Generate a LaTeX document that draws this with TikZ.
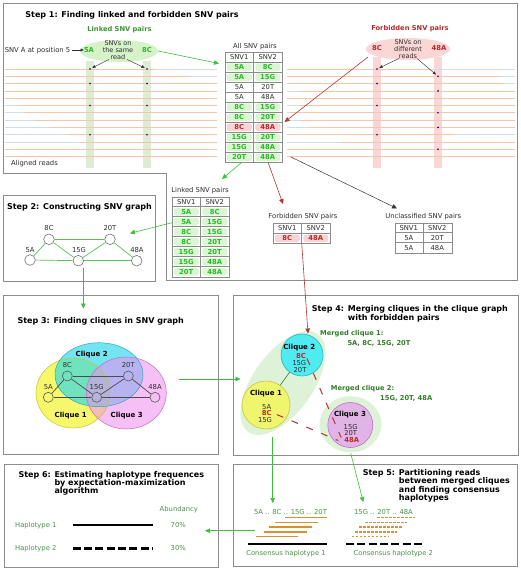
\documentclass[tikz,border=0pt]{standalone}
\usepackage{fontspec}
\setmainfont{DejaVu Sans}
\usetikzlibrary{arrows.meta,shapes.geometric}
\definecolor{boxgray}{RGB}{140,140,140}
\definecolor{txt}{RGB}{45,45,45}
\definecolor{tabgreen}{RGB}{40,185,40}
\definecolor{greenbg}{RGB}{218,246,210}
\definecolor{redtxt}{RGB}{185,40,40}
\definecolor{redbg}{RGB}{250,212,212}
\definecolor{ttlgreen}{RGB}{60,150,50}
\definecolor{ttlred}{RGB}{175,45,45}
\definecolor{mgreen}{RGB}{50,125,40}
\definecolor{sgreen}{RGB}{75,145,75}
\definecolor{readorange}{RGB}{245,198,170}
\definecolor{readblue}{RGB}{208,222,236}
\definecolor{stripgreen}{RGB}{222,236,212}
\definecolor{strippink}{RGB}{250,214,214}
\definecolor{ellgreen}{RGB}{214,242,200}
\definecolor{ellpink}{RGB}{250,214,214}
\definecolor{agreen}{RGB}{60,190,60}
\definecolor{ared}{RGB}{180,50,50}
\definecolor{graphgreen}{RGB}{90,190,90}
\definecolor{hapor}{RGB}{215,145,45}
\definecolor{mergefill}{RGB}{222,242,215}
\definecolor{c1fill}{RGB}{240,245,110}
\definecolor{c1draw}{RGB}{200,200,60}
\definecolor{c2fill}{RGB}{80,235,240}
\definecolor{c2draw}{RGB}{40,180,190}
\definecolor{c3fill}{RGB}{225,180,230}
\definecolor{c3draw}{RGB}{190,110,200}
\definecolor{ey}{RGB}{245,245,70}
\definecolor{ec}{RGB}{40,215,235}
\definecolor{em}{RGB}{240,140,240}
\tikzset{
  box/.style={draw=boxgray, line width=0.8pt},
  ttl/.style={font=\fontsize{8}{9}\selectfont\bfseries, inner sep=0pt, text=black},
  sub/.style={font=\fontsize{6.7}{8}\selectfont\bfseries, inner sep=0pt, text height=4.9pt, text depth=0pt},
  sml/.style={font=\fontsize{6.8}{8}\selectfont, inner sep=0pt, text=txt, text height=4.9pt, text depth=0pt},
  bsm/.style={font=\fontsize{6.8}{8}\selectfont\bfseries, inner sep=0pt, text height=4.9pt, text depth=0pt},
  clq/.style={font=\fontsize{7}{8}\selectfont\bfseries, inner sep=0pt, text=black, text height=5pt, text depth=0pt},
  hdr/.style={sml},
  gcell/.style={bsm, text=tabgreen, fill=greenbg, rounded corners=2.5pt, minimum width=25pt, minimum height=7.6pt},
  rcell/.style={bsm, text=redtxt, fill=redbg, rounded corners=2.5pt, minimum width=25pt, minimum height=7.6pt},
  ncell/.style={sml},
  tabline/.style={draw=boxgray, line width=0.5pt},
  readb/.style={draw=readblue, line width=0.7pt},
  reado/.style={draw=readorange, line width=0.7pt},
  dot/.style={circle, fill=black!60!blue, inner sep=0pt, minimum size=1.8pt},
  garrow/.style={draw=agreen, line width=0.6pt, -{Triangle[length=5pt,width=4.5pt]}},
  rarrow/.style={draw=ared, line width=0.6pt, -{Triangle[length=5pt,width=4.5pt]}},
  karrow/.style={draw=black!80, line width=0.5pt, -{Triangle[length=5pt,width=4.5pt]}},
  sarrow/.style={draw=black!80, line width=0.45pt, -{Triangle[length=3.2pt,width=2.8pt]}},
  gnode/.style={circle, draw=black!55, fill=white, line width=0.6pt, minimum size=10.6pt, inner sep=0pt},
  cnode/.style={circle, draw=black!65, line width=0.6pt, minimum size=10pt, inner sep=0pt},
  gedge/.style={draw=graphgreen, line width=0.7pt},
  cedge/.style={draw=black!70, line width=0.7pt},
  fdash/.style={draw=ared, line width=1pt, dash pattern=on 7pt off 9pt},
  hapline/.style={draw=black, line width=2.6pt},
  hapdash/.style={draw=black, line width=2.6pt, dash pattern=on 8pt off 3.3pt},
  rdsolid/.style={draw=hapor, line width=1.6pt},
  rddot/.style={draw=hapor, line width=1.6pt, dash pattern=on 2.6pt off 1.4pt},
}
\newcommand{\snvtab}[5]{%
  \node[tabline, minimum width=57pt, minimum height={(#4+1)*10pt}, inner sep=0pt, anchor=north west] (#1) at (#2,#3) {};
  \node[hdr] (#1-h1) at (#2+14.25,#3+5) {SNV1};
  \node[hdr] (#1-h2) at (#2+42.75,#3+5) {SNV2};
  \draw[tabline] (#2+28.5,#3) -- (#2+28.5,#3+#4*10+10);
  \foreach \ca/\cb/\cs [count=\ci] in {#5} {
    \draw[tabline] (#2,#3+10*\ci) -- (#2+57,#3+10*\ci);
    \node[\cs] (#1-\ci-a) at (#2+14.25,#3+5+10*\ci) {\ca};
    \node[\cs] (#1-\ci-b) at (#2+42.75,#3+5+10*\ci) {\cb};
  }
}
\begin{document}
\begin{tikzpicture}[x=1pt,y=-1pt]
\useasboundingbox (0,0) rectangle (520,569);
\fill[white] (0,0) rectangle (520,569);

%% ---------------- Step 1 ----------------
\draw[box] (3,3) -- (517,3) -- (517,280) -- (166,280) -- (166,173) -- (3,173) -- cycle;
\node[ttl, anchor=base] (t1) at (132,18) {Step 1: Finding linked and forbidden SNV pairs};

% strips
\fill[stripgreen] (86,61) rectangle (94,168);
\fill[stripgreen] (143,61) rectangle (151,168);
\fill[strippink] (373,57) rectangle (381,168);
\fill[strippink] (434,57) rectangle (442,168);

% reads
\foreach \i in {0,...,12} {
  \draw[readb] (5,69+7.3*\i) -- (217,69+7.3*\i);
  \draw[readb] (287,69+7.3*\i) -- (515,69+7.3*\i);
}
\foreach \i/\xa/\xb/\xc/\xd in {0/5/156/287/430, 1/5/190/287/500, 2/5/217/287/505,
  3/5/217/300/515, 4/5/217/287/515, 5/18/217/300/515, 6/25/217/290/515,
  7/35/217/300/515, 8/50/217/310/515, 9/68/217/287/455, 10/80/217/340/515,
  11/5/217/287/515, 12/5/217/287/515} {
  \draw[reado] (\xa,69+7.3*\i) -- (\xb,69+7.3*\i);
  \draw[reado] (\xc,69+7.3*\i) -- (\xd,69+7.3*\i);
}
% dots
\foreach \i in {0,2,5,9} {
  \node[dot] (dA\i) at (90,69+7.3*\i) {};
  \node[dot] (dC\i) at (147,69+7.3*\i) {};
  \node[dot] (fC\i) at (377,69+7.3*\i) {};
}
\foreach \i in {1,3,6,8,11} {
  \node[dot] (fA\i) at (438,69+7.3*\i) {};
}
\node[sml] (aligned) at (34.5,163) {Aligned reads};

% linked ellipse
\node[sub, text=ttlgreen] (linkttl) at (119.5,29) {Linked SNV pairs};
\node[ellipse, fill=ellgreen, minimum width=78pt, minimum height=22pt, inner sep=0pt] (linkell) at (119,51) {};
\node[bsm, text=tabgreen] (l5A) at (89,50) {5A};
\node[bsm, text=tabgreen] (l8C) at (147,50) {8C};
\node[font=\fontsize{6.5}{6.8}\selectfont, text=txt, align=center, inner sep=0pt] (same) at (118,50) {SNVs on\\the same\\read};
\node[sml] (posA) at (37.5,50) {SNV A at position 5};
\draw[sarrow] (posA.east) ++(2,0) coordinate (posAe) -- (l5A.west);
\draw[sarrow, shorten >=1.5pt] ([xshift=-9pt]same.south) -- (dA0);
\draw[sarrow, shorten >=1.5pt] ([xshift=9pt]same.south) -- (dC0);

% forbidden ellipse
\node[sub, text=ttlred] (forbttl) at (410,28) {Forbidden SNV pairs};
\node[ellipse, fill=ellpink, minimum width=84pt, minimum height=22pt, inner sep=0pt] (forbell) at (408,49) {};
\node[bsm, text=redtxt] (f8C) at (377,48) {8C};
\node[bsm, text=redtxt] (f48A) at (439,48) {48A};
\node[font=\fontsize{6.5}{6.8}\selectfont, text=txt, align=center, inner sep=0pt] (diff) at (408,49) {SNVs on\\different\\reads};
\draw[sarrow, shorten >=1.5pt] ([xshift=-9pt]diff.south) -- (fC0);
\draw[sarrow, shorten >=1.5pt] ([xshift=9pt]diff.south) -- (fA1);

% All SNV pairs table
\node[sml] (allttl) at (255,45.7) {All SNV pairs};
\snvtab{allT}{225}{52.3}{10}{5A/8C/gcell, 5A/15G/gcell, 5A/20T/ncell, 5A/48A/ncell, 8C/15G/gcell, 8C/20T/gcell, 8C/48A/rcell, 15G/20T/gcell, 15G/48A/gcell, 20T/48A/gcell}

\coordinate (allin) at (219,63.5);
\draw[garrow] (linkell.east) -- (allin);
\coordinate (forbout) at (368,57);
\coordinate (allred) at (284.5,122);
\draw[rarrow] (forbout) -- (allred);

% Linked table
\node[sml] (linkedttl) at (200,190) {Linked SNV pairs};
\snvtab{linkT}{172}{196.7}{7}{5A/8C/gcell, 5A/15G/gcell, 8C/15G/gcell, 8C/20T/gcell, 15G/20T/gcell, 15G/48A/gcell, 20T/48A/gcell}
% Forbidden table
\node[sml] (forbttl2) at (303,215.7) {Forbidden SNV pairs};
\snvtab{forbT}{273}{223.3}{1}{8C/48A/rcell}
% Unclassified table
\node[sml] (uncttl) at (423.3,216) {Unclassified SNV pairs};
\snvtab{uncT}{394.5}{222.7}{2}{5A/20T/ncell, 5A/48A/ncell}

\coordinate (linkin) at (222,179);
\draw[garrow] ([xshift=-12.5pt]allT.south) -- (linkin);
\coordinate (forbin) at (283,204);
\draw[rarrow] ([xshift=14.5pt]allT.south) -- (forbin);
\coordinate (uncin) at (397,208.5);
\draw[karrow] ([yshift=6pt]allT.south east) ++(8,0) coordinate (allse) -- (uncin);

%% ---------------- Step 2 ----------------
\draw[box] (3,195) rectangle (155,281);
\node[ttl, anchor=base] (t2) at (79.5,209.5) {Step 2: Constructing SNV graph};
\node[gnode] (g5A) at (30,260) {};
\node[gnode] (g8C) at (49,239.3) {};
\node[gnode] (g15G) at (78.3,260.7) {};
\node[gnode] (g20T) at (110,239.3) {};
\node[gnode] (g48A) at (136.7,260.7) {};
\node[sml] (lg5A) at (30,250) {5A};
\node[sml] (lg8C) at (49,228.5) {8C};
\node[sml] (lg15G) at (79,250) {15G};
\node[sml] (lg20T) at (110,228.5) {20T};
\node[sml] (lg48A) at (137,250) {48A};
\draw[gedge] (g5A) -- (g8C);
\draw[gedge] (g5A) -- (g15G);
\draw[gedge] (g8C) -- (g15G);
\draw[gedge] (g8C) -- (g20T);
\draw[gedge] (g15G) -- (g20T);
\draw[gedge] (g15G) -- (g48A);
\draw[gedge] (g20T) -- (g48A);
\coordinate (s2in) at (130,233.3);
\draw[garrow] ([yshift=-1pt]linkT.west |- linkT-2-a) -- (s2in);

\coordinate (s2out) at (83.3,268);
\coordinate (s3in) at (83.3,308.5);
\draw[garrow] (s2out) -- (s3in);

%% ---------------- Step 3 ----------------
\draw[box] (3,295) rectangle (218,454);
\node[ttl, anchor=base] (t3) at (100.7,323) {Step 3: Finding cliques in SNV graph};
\fill[ey, fill opacity=0.8] (73,393) ellipse [x radius=37pt, y radius=35pt];
\fill[ec, fill opacity=0.65] (99,374.7) ellipse [x radius=44pt, y radius=32pt];
\fill[em, fill opacity=0.55] (126.3,393) ellipse [x radius=40pt, y radius=36pt];
\draw[draw=ey!80!black, line width=0.5pt] (73,393) ellipse [x radius=37pt, y radius=35pt];
\draw[draw=ec!80!black, line width=0.5pt] (99,374.7) ellipse [x radius=44pt, y radius=32pt];
\draw[draw=em!80!black, line width=0.5pt] (126.3,393) ellipse [x radius=40pt, y radius=36pt];
\node[clq] (cl2) at (91.7,354.3) {Clique 2};
\node[clq] (cl1) at (70.7,415) {Clique 1};
\node[clq] (cl3) at (126.7,415) {Clique 3};
\node[cnode] (h5A) at (48.3,397.3) {};
\node[cnode] (h8C) at (67.3,376) {};
\node[cnode] (h15G) at (96.7,397.3) {};
\node[cnode] (h20T) at (128.3,376) {};
\node[cnode] (h48A) at (155,397.3) {};
\node[sml] (lh5A) at (48.3,387) {5A};
\node[sml] (lh8C) at (67.3,365.5) {8C};
\node[sml] (lh15G) at (96.7,387) {15G};
\node[sml] (lh20T) at (128.3,365.5) {20T};
\node[sml] (lh48A) at (155,387) {48A};
\draw[cedge] (h5A) -- (h8C);
\draw[cedge] (h5A) -- (h15G);
\draw[cedge] (h8C) -- (h15G);
\draw[cedge] (h8C) -- (h20T);
\draw[cedge] (h15G) -- (h20T);
\draw[cedge] (h15G) -- (h48A);
\draw[cedge] (h20T) -- (h48A);
\coordinate (s3out) at (179,379);
\coordinate (s4in) at (240.5,379);
\draw[garrow] (s3out) -- (s4in);

%% ---------------- Step 4 ----------------
\draw[box] (233,295) rectangle (518,455);
\node[ttl, anchor=base west] (t4a) at (311.7,311.3) {Step 4: Merging cliques in the clique graph};
\node[ttl, anchor=base west] (t4b) at (311.7,320.3) {\hphantom{Step 4: }with forbidden pairs};
\fill[mergefill, rotate around={54.5:(283,383)}] (283,383) ellipse [x radius=60pt, y radius=30pt];
\fill[mergefill] (350.5,424.3) ellipse [x radius=31pt, y radius=28pt];
\node[sub, text=mgreen, anchor=west] (m1a) at (320,332.7) {Merged clique 1:};
\node[sub, text=mgreen, anchor=west] (m1b) at (347.3,343.3) {5A, 8C, 15G, 20T};
\node[sub, text=mgreen, anchor=west] (m2a) at (330.7,387.7) {Merged clique 2:};
\node[sub, text=mgreen, anchor=west] (m2b) at (380,398.3) {15G, 20T, 48A};
\node[circle, fill=c2fill, draw=c2draw, line width=0.6pt, minimum size=42pt, inner sep=0pt] (c2) at (302,355) {};
\node[circle, fill=c1fill, draw=c1draw, line width=0.6pt, minimum size=48pt, inner sep=0pt] (c1) at (266,405) {};
\node[circle, fill=c3fill, draw=c3draw, line width=0.6pt, minimum size=45pt, inner sep=0pt] (c3) at (350.3,425) {};
\draw[draw=mgreen, line width=0.6pt] (c1) -- (c2);
\node[clq] (c2t) at (299.3,346.7) {Clique 2};
\node[bsm, text=redtxt] (c2a) at (301,356) {8C};
\node[sml] (c2b) at (299.3,362.8) {15G};
\node[sml] (c2c) at (300,369.8) {20T};
\node[clq] (c1t) at (266,393.3) {Clique 1};
\node[sml] (c1a) at (266.7,406.7) {5A};
\node[bsm, text=redtxt] (c1b) at (266.7,413.5) {8C};
\node[sml] (c1c) at (265,420.5) {15G};
\node[clq] (c3t) at (350,414) {Clique 3};
\node[sml] (c3a) at (350.7,426.7) {15G};
\node[sml] (c3b) at (350.7,433.5) {20T};
\node[bsm, text=redtxt] (c3c) at (351.7,440.5) {48A};
\draw[fdash] ([xshift=1pt]c2a.south east) -- ([xshift=-3pt,yshift=3pt]c3c.west);
\draw[fdash] ([xshift=5pt,yshift=-1pt]c1b.east) -- ([xshift=-6pt]c3c.west);
\coordinate (forbT4) at (308,333.5);
\draw[rarrow] (forbT.south) -- (forbT4);

\coordinate (m1out) at (272.7,437);
\coordinate (s5in1) at (272.7,503);
\draw[garrow] (m1out) -- (s5in1);
\coordinate (m2out) at (350.7,453.3);
\coordinate (s5in2) at (363.3,502);
\draw[garrow] (m2out) -- (s5in2);

%% ---------------- Step 5 ----------------
\draw[box] (233,464) rectangle (517,566);
\node[ttl, anchor=base west] (t5a) at (362.7,475.7) {Step 5: Partitioning reads};
\node[ttl, anchor=base west] (t5b) at (362.7,483.7) {\hphantom{Step 5: }between merged cliques};
\node[ttl, anchor=base west] (t5c) at (362.7,492) {\hphantom{Step 5: }and finding consensus};
\node[ttl, anchor=base west] (t5d) at (362.7,500.3) {\hphantom{Step 5: }haplotypes};
\node[sml, text=sgreen] (h1lbl) at (290.5,511.7) {5A .. 8C .. 15G .. 20T};
\node[sml, text=sgreen] (h2lbl) at (383.5,511.7) {15G .. 20T .. 48A};
\foreach \ya/\xa/\xb in {517.3/285/327.3, 522.3/275/318.3, 527/269.3/311.7, 531.7/264.3/306.7, 536.3/256/298.3} {
  \draw[rdsolid] (\xa,\ya) -- (\xb,\ya);
}
\foreach \ya/\xa/\xb in {517.3/377.3/415, 522.3/365/406.7, 527/359.3/401.7, 531.7/355/396.7, 536.3/351.7/389.3} {
  \draw[rddot] (\xa,\ya) -- (\xb,\ya);
}
\draw[hapline] (248.3,544) -- (327.3,544);
\draw[hapdash] (346,544) -- (421.7,544);
\node[sml, text=sgreen] (cons1) at (286,552.7) {Consensus haplotype 1};
\node[sml, text=sgreen] (cons2) at (393.3,552.7) {Consensus haplotype 2};
\coordinate (s5out) at (255,530.7);
\coordinate (s6in) at (205,530.7);
\draw[garrow] (s5out) -- (s6in);

%% ---------------- Step 6 ----------------
\draw[box] (4,464) rectangle (218,567);
\node[ttl, anchor=base west] (t6a) at (18.3,477) {Step 6: Estimating haplotype frequences};
\node[ttl, anchor=base west] (t6b) at (18.3,485) {\hphantom{Step 6: }by expectation-maximization};
\node[ttl, anchor=base west] (t6c) at (18.3,493.7) {\hphantom{Step 6: }algorithm};
\node[sml, text=sgreen] (abund) at (178.8,509.3) {Abundancy};
\node[sml, text=sgreen] (hap1) at (35.8,525) {Haplotype 1};
\node[sml, text=sgreen] (hap2) at (35.8,548.3) {Haplotype 2};
\node[sml, text=sgreen] (p70) at (178.3,525) {70\%};
\node[sml, text=sgreen] (p30) at (178.3,548.3) {30\%};
\draw[hapline] (72.7,525) -- (152.7,525);
\draw[hapdash] (72.7,548.3) -- (152,548.3);
\end{tikzpicture}
\end{document}
